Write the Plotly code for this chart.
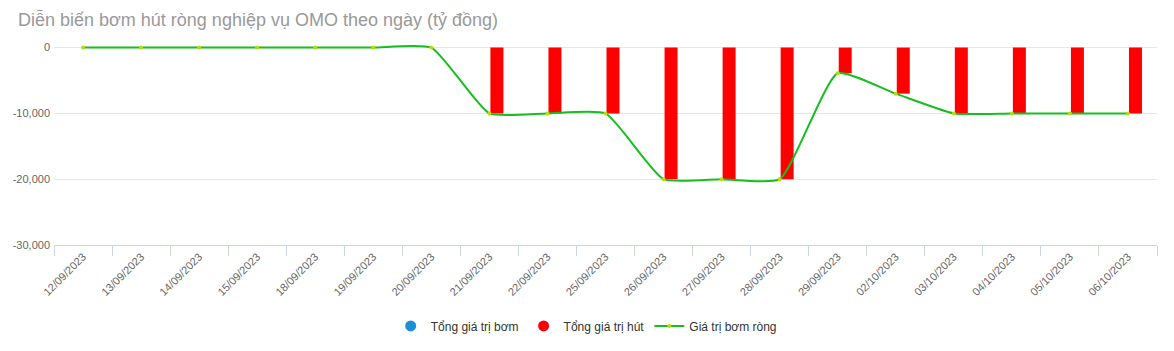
import plotly.graph_objects as go

dates = ["12/09/2023", "13/09/2023", "14/09/2023", "15/09/2023", "18/09/2023",
         "19/09/2023", "20/09/2023", "21/09/2023", "22/09/2023", "25/09/2023",
         "26/09/2023", "27/09/2023", "28/09/2023", "29/09/2023", "02/10/2023",
         "03/10/2023", "04/10/2023", "05/10/2023", "06/10/2023"]
tong_bom = [0, 0, 0, 0, 0, 0, 0, 0, 0, 0, 0, 0, 0, 0, 0, 0, 0, 0, 0]
tong_hut = [0, 0, 0, 0, 0, 0, 0, -10000, -10000, -10000, -20000, -20000, -20000,
            -3900, -7000, -10000, -10000, -10000, -10000]
bom_rong = [0, 0, 0, 0, 0, 0, 0, -10000, -10000, -10000, -20000, -20000, -20000,
            -3900, -7000, -10000, -10000, -10000, -10000]
y_ticks = [0, -10000, -20000, -30000]
y_tick_text = ["0", "-10,000", "-20,000", "-30,000"]

names = ["Tổng giá trị bơm", "Tổng giá trị hút", "Giá trị bơm ròng"]
c_bom = "#1a8fd6"
c_hut = "#ff0000"
c_line = "#16be1e"
c_mark = "#b5dc10"

FONT = "Liberation Sans, Arial, sans-serif"

fig = go.Figure()
fig.add_trace(go.Bar(x=dates, y=tong_bom, name=names[0], marker_color=c_bom,
                     marker_line_width=0, showlegend=False))
fig.add_trace(go.Bar(x=dates, y=tong_hut, name=names[1], marker_color=c_hut,
                     marker_line_width=0, showlegend=False))
fig.add_trace(go.Scatter(x=dates, y=bom_rong, name=names[2], mode="lines+markers",
                         line=dict(color=c_line, width=2, shape="spline", smoothing=0.5),
                         marker=dict(color=c_mark, size=4), showlegend=False,
                         cliponaxis=False))
# legend entries (circle symbols like the original)
fig.add_trace(go.Scatter(x=[None], y=[None], mode="markers", name=names[0],
                         marker=dict(color=c_bom, size=11, symbol="circle")))
fig.add_trace(go.Scatter(x=[None], y=[None], mode="markers", name=names[1],
                         marker=dict(color=c_hut, size=11, symbol="circle")))
fig.add_trace(go.Scatter(x=[None], y=[None], mode="lines+markers", name=names[2],
                         line=dict(color=c_line, width=2),
                         marker=dict(color=c_mark, size=4)))

fig.update_layout(
    width=1174, height=351,
    margin=dict(l=54, r=17, t=41, b=105),
    paper_bgcolor="white", plot_bgcolor="white",
    font=dict(family=FONT, size=11, color="#666666"),
    title=dict(text="Diễn biến bơm hút ròng nghiệp vụ OMO theo ngày (tỷ đồng)",
               font=dict(family=FONT, size=18, color="#999999"),
               xref="container", yref="container", x=0.0153, xanchor="left",
               y=0.945, yanchor="middle"),
    barmode="group", bargap=0.483, bargroupgap=0.134,
    showlegend=True,
    legend=dict(orientation="h", x=0.4825, xanchor="center", y=-0.39, yanchor="middle",
                font=dict(family=FONT, size=12, color="#333333"),
                itemsizing="trace", traceorder="normal"),
    hovermode=False,
)
fig.update_xaxes(type="category", categoryorder="array", categoryarray=dates,
                 range=[-0.5, len(dates) - 0.5], autorange=False,
                 tickangle=-45, tickson="boundaries",
                 ticks="outside", ticklen=10, tickcolor="#ccd6eb",
                 showline=True, linecolor="#ccd6eb", linewidth=1,
                 showgrid=False, tickfont=dict(size=11, color="#666666"))
fig.update_yaxes(range=[-30000, 1000], tickvals=y_ticks, ticktext=y_tick_text,
                 showgrid=True, gridcolor="#e6e6e6", gridwidth=1,
                 zeroline=False, showline=False, ticks="",
                 ticklabelstandoff=3, tickfont=dict(size=11, color="#666666"))

fig.write_html("out.html")
